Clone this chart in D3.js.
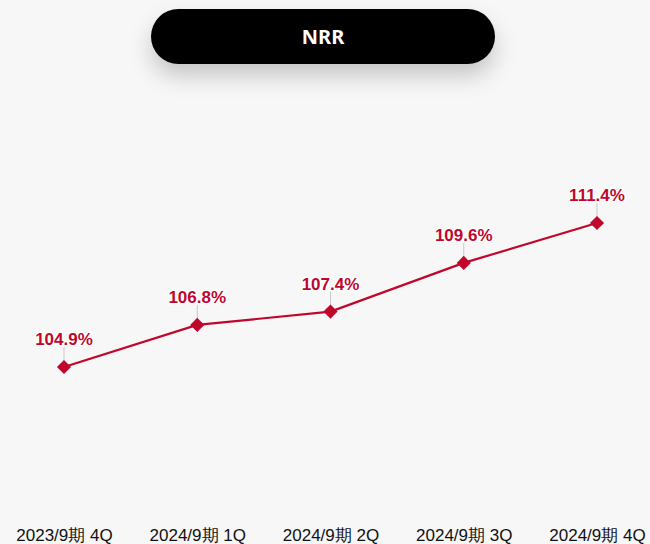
<!DOCTYPE html>
<html>
<head>
<meta charset="utf-8">
<script src="https://cdn.jsdelivr.net/npm/d3@7"></script>
<style>
  html, body { margin: 0; padding: 0; background: #f7f7f7; }
  svg { display: block; }
</style>
</head>
<body>
<script>
const categories = ["2023/9期 4Q", "2024/9期 1Q", "2024/9期 2Q", "2024/9期 3Q", "2024/9期 4Q"];
const values = [104.9, 106.8, 107.4, 109.6, 111.4];
const title = "NRR";

const width = 650, height = 544;
const red = "#c1062c";

const svg = d3.select("body").append("svg")
  .attr("width", width)
  .attr("height", height)
  .attr("font-family", "'Liberation Sans', Arial, sans-serif");

svg.append("rect").attr("width", width).attr("height", height).attr("fill", "#f7f7f7");

const defs = svg.append("defs");
const f = defs.append("filter").attr("id", "shadow")
  .attr("x", "-30%").attr("y", "-60%").attr("width", "160%").attr("height", "260%");
f.append("feDropShadow")
  .attr("dx", 0).attr("dy", 12)
  .attr("stdDeviation", 11)
  .attr("flood-color", "#000")
  .attr("flood-opacity", 0.2);

// title pill
svg.append("rect")
  .attr("x", 151).attr("y", 9)
  .attr("width", 344).attr("height", 55)
  .attr("rx", 27.5)
  .attr("fill", "#000")
  .attr("filter", "url(#shadow)");
svg.append("text")
  .attr("x", 323).attr("y", 44)
  .attr("text-anchor", "middle")
  .attr("fill", "#fff")
  .attr("font-family", "'Noto Sans', sans-serif")
  .attr("font-weight", "bold")
  .attr("font-size", 20)
  .text(title);

const x = d3.scalePoint().domain(categories).range([64, 597]);
const y = d3.scaleLinear().domain([100, 115]).range([475.5, 143.3]);

const data = categories.map((c, i) => ({ c, v: values[i] }));

// x axis labels
const xAxis = d3.axisBottom(x).tickSize(0).tickPadding(0);
svg.append("g")
  .attr("transform", "translate(0,529)")
  .call(xAxis)
  .call(g => g.select(".domain").remove())
  .call(g => g.selectAll("text")
    .attr("font-family", "'Liberation Sans', Arial, sans-serif")
    .attr("font-size", 17)
    .attr("fill", "#111"));

// leader lines
svg.append("g")
  .selectAll("line")
  .data(data)
  .join("line")
  .attr("x1", d => x(d.c)).attr("x2", d => x(d.c))
  .attr("y1", d => y(d.v) - 20).attr("y2", d => y(d.v) - 6)
  .attr("stroke", "#c8c8c8")
  .attr("stroke-width", 1);

// line
svg.append("path")
  .datum(data)
  .attr("fill", "none")
  .attr("stroke", red)
  .attr("stroke-width", 2.2)
  .attr("d", d3.line().x(d => x(d.c)).y(d => y(d.v)));

// markers
svg.append("g")
  .selectAll("path")
  .data(data)
  .join("path")
  .attr("d", d3.symbol(d3.symbolSquare, 100))
  .attr("transform", d => `translate(${x(d.c)},${y(d.v)}) rotate(45)`)
  .attr("fill", red);

// value labels
svg.append("g")
  .selectAll("text")
  .data(data)
  .join("text")
  .attr("x", d => x(d.c))
  .attr("y", d => y(d.v) - 22)
  .attr("text-anchor", "middle")
  .attr("font-size", 17)
  .attr("font-weight", "bold")
  .attr("fill", red)
  .attr("stroke", "#fff")
  .attr("stroke-width", 3)
  .attr("stroke-linejoin", "round")
  .attr("paint-order", "stroke")
  .text(d => d.v.toFixed(1) + "%");
</script>
</body>
</html>
